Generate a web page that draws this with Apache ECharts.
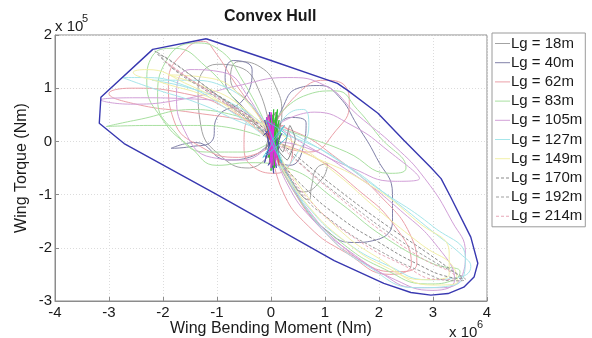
<!DOCTYPE html>
<html>
<head>
<meta charset="utf-8">
<script src="https://cdn.jsdelivr.net/npm/echarts@6/dist/echarts.min.js"></script>
<style>html,body{margin:0;padding:0;background:#fff}#c{width:592px;height:338px}</style>
</head>
<body>
<div id="c"></div>
<script>
// Units: x in 1e6 Nm, y in 1e5 Nm
const xTicks = [-4,-3,-2,-1,0,1,2,3,4];
const yTicks = [-3,-2,-1,0,1,2];
const seriesNames = ['Lg = 18m','Lg = 40m','Lg = 62m','Lg = 83m','Lg = 105m','Lg = 127m','Lg = 149m','Lg = 170m','Lg = 192m','Lg = 214m'];

const hull = [[-1.2,1.93],[0,1.52],[1.23,1.09],[1.42,0.96],[1.98,0.53],[2.46,0.02],[2.96,-0.49],[3.15,-0.7],[3.33,-1.05],[3.7,-1.8],[3.83,-2.29],[3.76,-2.55],[3.57,-2.74],[3.28,-2.86],[2.96,-2.89],[2.59,-2.84],[2.09,-2.67],[1.17,-2.24],[-1,-1],[-2.72,-0.04],[-3.18,0.34],[-3.15,0.83],[-2.19,1.73],[-1.2,1.93]];

const lg18_jit = [[0,0],[0.05,0.4],[-0.05,-0.3],[0.12,0.5],[0.02,-0.45],[0.18,0.35],[-0.1,-0.15],[0.08,0.55],[0.15,-0.4],[-0.05,0.25],[0.22,-0.2],[0.35,0.3],[0.45,0.05],[0.3,-0.35],[0,0]];
const lg18_jag = [[0.05,-0.2],[0.3,-0.6],[0.55,-1.0],[0.7,-1.1],[0.75,-0.85],[0.85,-0.5],[1.05,-0.42],[0.95,-0.7],[0.6,-0.95],[0.35,-0.7],[0.1,-0.3]];
const lg18_up = [[0,0],[-0.3,0.6],[-0.75,1.2],[-0.6,1.5],[-0.2,1.4],[0.1,1.0],[0.2,0.5],[0.05,0]];
const lg18_tall = [[0,0],[-0.2,0.9],[-0.6,1.4],[-1.0,1.45],[-1.35,1.0],[-1.3,0.3],[-0.9,-0.3],[-0.4,-0.5],[0,-0.2]];

const lg40_jit = [[0,0],[-0.08,0.45],[0.06,-0.35],[-0.03,0.55],[0.1,-0.5],[-0.1,0.2],[0.12,-0.1],[0,0.5],[0.05,-0.6],[-0.06,0.1],[0.08,0.3],[-0.12,-0.4],[0,0]];
const lg40_jit2 = [[-0.15,0.1],[0.1,0.35],[-0.1,-0.3],[0.2,0.15],[-0.05,-0.45],[0.15,-0.1],[-0.12,0.4],[0.06,-0.2]];
const lg40_right = [[0,0],[0.2,0.6],[0.5,1.0],[0.9,1.05],[1.25,0.85],[1.6,0.3],[1.95,-0.3],[2.25,-1.0],[2.25,-1.5],[1.95,-1.85],[1.5,-1.9],[1.0,-1.65],[0.6,-1.2],[0.3,-0.6],[0.05,-0.1]];
const lg40_left = [[0,0],[-0.4,0.5],[-0.85,1.2],[-0.7,1.52],[-0.35,1.35],[-0.5,0.8],[-1.0,0.45],[-1.1,0.0],[-1.5,-0.1],[-1.85,-0.13],[-1.4,-0.02],[-0.8,-0.35],[-0.4,-0.3],[0,0]];
const lg40_mid = [[0,0.1],[0.35,0.45],[0.65,0.35],[0.6,-0.1],[0.35,-0.45],[0.1,-0.3],[0,0.1]];

const lg62_jit = [[0,0],[-0.1,0.4],[0.1,-0.3],[-0.05,0.5],[0.15,-0.45],[0,0.3],[0.12,-0.2],[-0.08,0.15],[0,0]];
const lg62_big = [[0,0],[-0.7,0.55],[-1.6,0.9],[-2.6,1.0],[-3.0,0.9],[-2.5,0.7],[-1.5,0.55],[-0.5,0.4],[0.4,0.2],[1.2,-0.3],[2.0,-1.0],[2.6,-1.8],[2.7,-2.3],[2.3,-2.45],[1.6,-2.2],[0.9,-1.6],[0.4,-0.9],[0.05,-0.2]];
const lg62_top = [[0,0.2],[0.5,0.9],[1.0,1.15],[1.4,1.0],[1.45,0.7],[1.2,0.2],[0.7,-0.2],[0.2,-0.1]];
const lg62_tall = [[0,0.2],[-0.6,1.0],[-1.05,1.7],[-1.25,1.88],[-1.6,1.7],[-1.9,1.1],[-1.8,0.4],[-1.3,-0.1],[-0.6,-0.3],[0,-0.1]];
const lg62_small = [[0,0],[-0.4,0.4],[-0.5,-0.1],[-0.3,-0.5],[0.1,-0.6],[0.4,-0.2],[0.2,0.3],[0,0]];
const lg62_low = [[0,0],[0.2,-0.9],[0.7,-1.6],[1.4,-2.1],[2.2,-2.5],[2.6,-2.3],[2.3,-1.6],[1.6,-0.9],[0.8,-0.3],[0,0]];

const lg83_jit = [[0,0],[0.02,0.5],[-0.03,-0.4],[0.05,0.6],[0,-0.55],[0.08,0.45],[-0.02,-0.3],[0.04,0.35],[0.06,-0.5],[-0.01,0.4],[0,0]];
const lg83_jit2 = [[0.1,0.55],[0.02,-0.45],[0.15,0.4],[-0.05,-0.3],[0.12,0.6],[0.05,-0.5],[0.18,0.2]];
const lg83_big = [[0,0],[-0.6,0.7],[-1.2,1.4],[-1.8,1.75],[-2.2,1.6],[-2.3,1.1],[-2.0,0.4],[-1.5,-0.1],[-1.0,-0.45],[-0.4,-0.4],[0.3,-0.5],[1.2,-1.1],[2.1,-1.8],[3.0,-2.3],[3.5,-2.45],[3.4,-2.6],[2.9,-2.68],[2.1,-2.4],[1.3,-1.9],[0.6,-1.2],[0.1,-0.3]];
const lg83_left = [[-0.2,0.1],[-1.2,0.3],[-2.2,0.3],[-3.05,0.28],[-2.5,0.4],[-1.4,0.6],[-0.4,0.4]];
const lg83_tall = [[0,0.1],[-0.5,1.1],[-1.0,1.75],[-1.4,1.85],[-1.95,1.5],[-2.1,0.8],[-1.8,0.2],[-1.2,-0.2],[-0.5,-0.2],[0,0]];
const lg83_top = [[0,0.3],[0.6,0.85],[1.2,0.95],[1.6,0.6],[2.0,0.1],[2.5,-0.5],[2.2,-0.6],[1.4,-0.2],[0.6,0.1],[0,0.3]];

const lg105_jit = [[0,0],[0.03,0.3],[-0.02,-0.4],[0.06,0.35],[0,-0.5],[0.05,0.2],[-0.04,-0.25],[0.02,0.1],[0.04,-0.45],[-0.03,0.25],[0,0]];
const lg105_jit2 = [[-0.05,0.5],[0.1,-0.3],[-0.08,0.45],[0.12,-0.35],[-0.02,0.3],[0.09,-0.45],[0,0.55],[0.05,-0.2]];
const lg105_big = [[0,0.1],[-0.6,0.6],[-1.5,0.8],[-2.5,0.82],[-3.15,0.78],[-2.6,0.7],[-1.6,0.8],[-0.6,1.05],[0.3,1.2],[1.0,1.05],[1.6,0.5],[2.3,-0.1],[2.85,-0.7],[3.35,-1.5],[3.6,-2.1],[3.55,-2.5],[3.2,-2.75],[2.7,-2.75],[2.0,-2.45],[1.3,-1.95],[0.7,-1.3],[0.25,-0.6],[0,0.1]];
const lg105_mid = [[0.1,0.3],[0.8,0.55],[1.5,0.3],[2.2,-0.2],[2.75,-0.7],[2.3,-0.75],[1.5,-0.5],[0.7,-0.1],[0.1,0.3]];
const lg105_tall = [[0,0],[-0.4,0.8],[-0.9,1.3],[-1.5,1.35],[-1.75,0.9],[-1.6,0.2],[-1.1,-0.3],[-0.5,-0.35],[0,0]];
const lg105_low = [[0,0],[0.3,-0.8],[0.8,-1.5],[1.5,-2.1],[2.3,-2.6],[3.0,-2.8],[3.4,-2.6],[3.1,-2.0],[2.4,-1.3],[1.5,-0.6],[0.6,-0.1],[0,0]];

const lg127_jit = [[0,0],[0.25,0.3],[-0.15,-0.3],[0.3,0.1],[-0.1,0.4],[0.2,-0.4],[0,0]];
const lg127_big = [[0,0],[-0.8,0.6],[-1.6,1.05],[-2.4,1.2],[-2.75,1.2],[-2.2,1.0],[-1.3,0.7],[-0.4,0.3],[0.6,0.0],[1.4,-0.45],[2.2,-1.05],[3.0,-1.7],[3.55,-2.15],[3.7,-2.35],[3.5,-2.55],[2.9,-2.6],[2.2,-2.35],[1.4,-1.9],[0.7,-1.25],[0.2,-0.5],[0,0]];
const lg127_mid = [[0,0],[0.3,0.5],[0.6,0.6],[0.7,0.3],[0.5,-0.2],[0.2,-0.5],[0,-0.2]];
const lg127_upper = [[0,0.2],[-0.8,1.0],[-1.6,1.15],[-2.2,1.15],[-1.5,1.0],[-0.7,0.7],[0,0.2]];
const lg127_wide = [[0.1,0.3],[1.0,-0.2],[2.0,-0.9],[3.0,-1.6],[3.6,-2.2],[3.4,-2.7],[2.7,-2.75],[1.8,-2.35],[1.0,-1.7],[0.4,-0.8],[0.1,0]];

const lg149_big = [[0,0],[-0.8,0.65],[-1.6,1.1],[-2.3,1.35],[-2.55,1.3],[-2.0,1.1],[-1.2,0.85],[-0.4,0.45],[0.4,0],[1.2,-0.6],[2.0,-1.3],[2.8,-1.95],[3.4,-2.4],[3.45,-2.65],[3.0,-2.7],[2.2,-2.4],[1.4,-1.9],[0.6,-1.1],[0.1,-0.3]];
const lg149_upper = [[0,0.1],[-0.6,0.9],[-1.2,1.2],[-1.9,1.25],[-1.3,1.05],[-0.6,0.7],[0,0.1]];
const lg149_wide = [[0,0],[0.8,-0.3],[1.8,-0.8],[2.7,-1.5],[3.3,-2.1],[3.3,-2.5],[2.8,-2.6],[2.0,-2.2],[1.2,-1.6],[0.5,-0.8],[0,0]];

const lg170_loop = [[0,0.05],[-0.5,0.5],[-1.1,0.95],[-1.7,1.4],[-2.15,1.7],[-1.9,1.45],[-1.4,1.1],[-0.8,0.75],[-0.2,0.3],[0.5,-0.3],[1.3,-0.95],[2.1,-1.55],[2.9,-2.1],[3.45,-2.5],[3.55,-2.58],[3.3,-2.55],[2.7,-2.3],[2.0,-1.9],[1.3,-1.45],[0.6,-0.85],[0.1,-0.25],[0,0.05]];
const lg192_loop = [[0.05,0],[-0.6,0.55],[-1.3,1.1],[-1.9,1.55],[-2.05,1.62],[-1.8,1.35],[-1.2,0.95],[-0.6,0.55],[0,0.1],[0.7,-0.55],[1.5,-1.2],[2.3,-1.8],[3.0,-2.25],[3.6,-2.6],[3.4,-2.62],[2.8,-2.45],[2.0,-2.05],[1.2,-1.55],[0.5,-0.9],[0.05,0]];
const lg214_loop = [[0,0],[-0.7,0.6],[-1.4,1.1],[-1.95,1.5],[-1.7,1.3],[-1.0,0.85],[-0.3,0.35],[0.4,-0.3],[1.2,-1.0],[2.0,-1.65],[2.8,-2.2],[3.4,-2.55],[3.15,-2.6],[2.4,-2.3],[1.6,-1.85],[0.8,-1.2],[0.2,-0.4],[0,0]];

const groups = [
  {name:'Lg = 18m', color:'#a3a3a3', type:'solid', loops:[lg18_up, lg18_tall, lg18_jag], jits:[lg18_jit], jitColor:'#8a8a8a'},
  {name:'Lg = 40m', color:'#8080a8', type:'solid', loops:[lg40_right, lg40_left, lg40_mid], jits:[lg40_jit, lg40_jit2], jitColor:'#4a4aa8'},
  {name:'Lg = 62m', color:'#eba0a8', type:'solid', loops:[lg62_big, lg62_top, lg62_tall, lg62_small, lg62_low], jits:[lg62_jit], jitColor:'#d85a5a'},
  {name:'Lg = 83m', color:'#a8e0a0', type:'solid', loops:[lg83_big, lg83_left, lg83_tall, lg83_top], jits:[lg83_jit, lg83_jit2], jitColor:'#2fbf2f'},
  {name:'Lg = 105m', color:'#d2a0d8', type:'solid', loops:[lg105_big, lg105_mid, lg105_tall, lg105_low], jits:[lg105_jit, lg105_jit2], jitColor:'#e030e0'},
  {name:'Lg = 127m', color:'#a6e6ea', type:'solid', loops:[lg127_big, lg127_mid, lg127_upper, lg127_wide], jits:[lg127_jit], jitColor:'#50c8d8'},
  {name:'Lg = 149m', color:'#f2f0a8', type:'solid', loops:[lg149_big, lg149_upper, lg149_wide], jits:[]},
  {name:'Lg = 170m', color:'#8a8a8a', type:'dashed', loops:[lg170_loop], jits:[]},
  {name:'Lg = 192m', color:'#a0a0a0', type:'dashed', loops:[lg192_loop], jits:[]},
  {name:'Lg = 214m', color:'#e8a8b8', type:'dashed', loops:[lg214_loop], jits:[]}
];

const FONT = 'Liberation Sans, Arial, sans-serif';
const ICON_SOLID = 'path://M0,0H15V1H0Z';
const ICON_DASH = 'path://M0,0H3V1H0ZM5,0H8V1H5ZM10,0H13V1H10Z';
const series = [];
function addLine(g, d, c, sm, z) {
  series.push({
    name: g.name, type: 'line', data: d, smooth: sm,
    symbol: 'none', showSymbol: false,
    lineStyle: {color: c, width: 1, type: g.type === 'dashed' ? [3,2] : 'solid'},
    itemStyle: {color: g.color}, z: z
  });
}
groups.forEach(g => { g.loops.forEach(lp => addLine(g, lp, g.color, 0.5, 2)); });
groups.forEach(g => { g.jits.forEach(lp => addLine(g, lp, g.jitColor, 0.15, 3)); });
series.push({name:'hull', type:'line', data: hull, smooth:false, symbol:'none',
  lineStyle:{color:'#3838b0', width:1.4}, itemStyle:{color:'#3838b0'}, z:5});

const legendData = groups.map(g => ({name: g.name, icon: g.type === 'dashed' ? ICON_DASH : ICON_SOLID}));

const chart = echarts.init(document.getElementById('c'));
chart.setOption({
  animation: false,
  backgroundColor: '#fff',
  grid: {left: 55, right: 105, top: 35, bottom: 37, show: true, borderColor: '#8c8c8c', borderWidth: 1},
  xAxis: {type: 'value', min: -4, max: 4, interval: 1,
    axisLine: {show: true, onZero: false, lineStyle: {color: '#8c8c8c'}},
    axisTick: {show: true, inside: true, length: 4, lineStyle: {color: '#8c8c8c'}},
    axisLabel: {fontFamily: FONT, fontSize: 15, color: '#1a1a1a', margin: 4},
    splitLine: {show: true, lineStyle: {color: '#dcdcdc', type: [1,2]}}},
  yAxis: {type: 'value', min: -3, max: 2, interval: 1,
    axisLine: {show: true, onZero: false, lineStyle: {color: '#8c8c8c'}},
    axisTick: {show: true, inside: true, length: 4, lineStyle: {color: '#8c8c8c'}},
    axisLabel: {fontFamily: FONT, fontSize: 15, color: '#1a1a1a', margin: 3},
    splitLine: {show: true, lineStyle: {color: '#dcdcdc', type: [1,2]}}},
  legend: {data: legendData, orient: 'vertical', left: 492, top: 33,
    itemWidth: 15, itemHeight: 1, itemGap: 4.2,
    itemStyle: {borderWidth: 0},
    padding: [3, 3, 3, 3], borderColor: '#9a9a9a', borderWidth: 1, backgroundColor: '#fff',
    textStyle: {fontFamily: FONT, fontSize: 15, color: '#1a1a1a', padding: [0,0,0,-4]}},
  graphic: [
    {type: 'text', left: 224, top: 9, style: {text: 'Convex Hull', font: 'bold 16px ' + FONT, fill: '#1a1a1a'}},
    {type: 'text', left: 55, top: 19, style: {text: 'x 10', font: '15px ' + FONT, fill: '#1a1a1a'}},
    {type: 'text', left: 82, top: 13, style: {text: '5', font: '11px ' + FONT, fill: '#1a1a1a'}},
    {type: 'text', left: 449, top: 325, style: {text: 'x 10', font: '15px ' + FONT, fill: '#1a1a1a'}},
    {type: 'text', left: 477, top: 319, style: {text: '6', font: '11px ' + FONT, fill: '#1a1a1a'}},
    {type: 'text', left: 170, top: 321, style: {text: 'Wing Bending Moment (Nm)', font: '16px ' + FONT, fill: '#1a1a1a'}},
    {type: 'text', x: 14, y: 168, rotation: Math.PI / 2, style: {text: 'Wing Torque (Nm)', font: '16px ' + FONT, fill: '#1a1a1a', align: 'center', verticalAlign: 'top'}}
  ],
  series: series
});
</script>
</body>
</html>
